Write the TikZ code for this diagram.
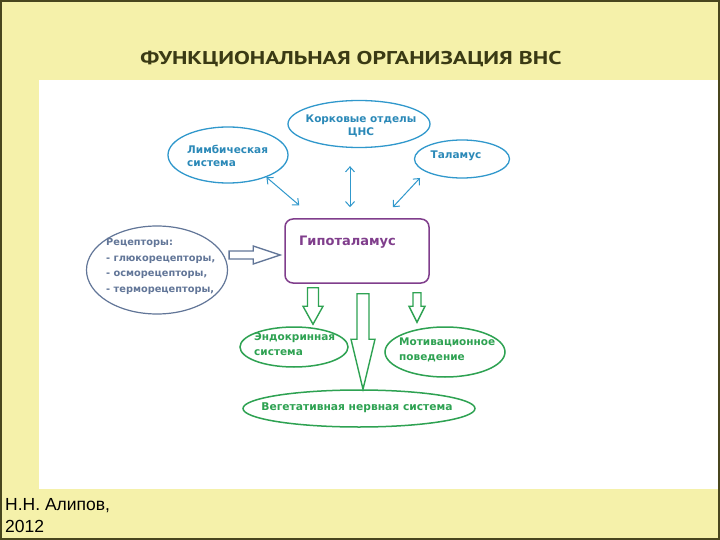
\documentclass[tikz,border=0pt]{standalone}
\usepackage{graphicx}
\usepackage{fontspec}
\setmainfont{DejaVu Sans}
\newfontfamily\titlefont{PT Sans}
\newfontfamily\footfont{Liberation Sans}
\usetikzlibrary{shapes.geometric,arrows.meta,calc}

\definecolor{bgyellow}{RGB}{245,241,170}
\definecolor{framecol}{RGB}{72,70,30}
\definecolor{titlecol}{RGB}{58,58,20}
\definecolor{cnsblue}{RGB}{48,152,204}
\definecolor{hypopurple}{RGB}{128,62,140}
\definecolor{effgreen}{RGB}{46,162,82}
\definecolor{recgray}{RGB}{98,118,152}

% hollow block arrow: style, from, to, shaft half, head half, head length
\newcommand{\fatarrow}[6]{%
  \coordinate (fa-h) at ($(#3)!#6!(#2)$);
  \draw[#1] ($(#2)!#4!90:(#3)$) -- ($(fa-h)!#4!90:(#3)$) -- ($(fa-h)!#5!90:(#3)$)
    -- (#3) -- ($(fa-h)!#5!-90:(#3)$) -- ($(fa-h)!#4!-90:(#3)$) -- ($(#2)!#4!-90:(#3)$) -- cycle;
}

\begin{document}
\begin{tikzpicture}[x=1pt,y=-1pt,
  ell/.style={ellipse,draw,line width=1.3pt,inner sep=0pt},
  lab/.style={inner sep=0pt,font=\bfseries\fontsize{10.5}{13}\selectfont},
  link/.style={cnsblue,line width=1pt,{Straight Barb[length=5pt,width=9pt]}-{Straight Barb[length=5pt,width=9pt]}},
  greenarrow/.style={draw=effgreen,fill=white,line width=1.4pt},
  grayarrow/.style={draw=recgray,fill=white,line width=1.3pt}]
   \useasboundingbox (0,0) rectangle (720,540);
   \fill[bgyellow] (0,0) rectangle (720,540);
   \fill[white] (39,80) rectangle (718,489);
   \draw[framecol,line width=2pt] (1,1) rectangle (719,539);

   \node[inner sep=0pt,text=titlecol,font=\titlefont\bfseries\fontsize{18.5}{20}\selectfont] (title) at (351,59)
     {\scalebox{1.28}[1]{ФУНКЦИОНАЛЬНАЯ ОРГАНИЗАЦИЯ ВНС}};

   % upper ring
   \node[ell,draw=cnsblue,minimum width=142pt,minimum height=47pt] (cortex) at (359,124) {};
   \node[lab,text=cnsblue!90!black,align=center] (cortextxt) at (361,126) {Корковые отделы\\ЦНС};
   \node[ell,draw=cnsblue,minimum width=120pt,minimum height=56pt] (limb) at (228,155) {};
   \node[lab,text=cnsblue!90!black,align=left,anchor=west] (limbtxt) at (187,156) {Лимбическая\\система};
   \node[ell,draw=cnsblue,minimum width=95pt,minimum height=38pt] (thal) at (462,159) {};
   \node[lab,text=cnsblue!90!black] (thaltxt) at (456,156) {Таламус};

   % hypothalamus
   \node[draw=hypopurple,line width=1.5pt,rounded corners=8pt,minimum width=144pt,minimum height=64pt] (hypo) at (357,251) {};
   \node[lab,text=hypopurple,anchor=west,font=\bfseries\fontsize{13}{15}\selectfont] (hypotxt) at (299,242) {Гипоталамус};

   % receptors
   \node[ell,draw=recgray,line width=1.2pt,minimum width=141pt,minimum height=88pt] (rec) at (157,270) {};
   \node[lab,text=recgray,align=left,anchor=west,font=\bfseries\fontsize{9.8}{15.5}\selectfont] (rectxt) at (106,266.5)
     {Рецепторы:\\- глюкорецепторы,\\- осморецепторы,\\- терморецепторы,};

   % effectors
   \node[ell,draw=effgreen,line width=1.5pt,minimum width=108pt,minimum height=40pt] (endo) at (294,347) {};
   \node[lab,text=effgreen,align=left,anchor=west,font=\bfseries\fontsize{10.5}{15}\selectfont] (endotxt) at (254,344.5) {Эндокринная\\система};
   \node[ell,draw=effgreen,line width=1.5pt,minimum width=120pt,minimum height=50pt] (motiv) at (445,352) {};
   \node[lab,text=effgreen,align=left,anchor=west,font=\bfseries\fontsize{10.5}{15}\selectfont] (motivtxt) at (399,349.5) {Мотивационное\\поведение};
   \node[ell,draw=effgreen,line width=1.5pt,minimum width=232pt,minimum height=37pt] (veg) at (359,408.5) {};
   \node[lab,text=effgreen,font=\bfseries\fontsize{10.7}{13}\selectfont] (vegtxt) at (357,408) {Вегетативная нервная система};

   % two-way links
   \draw[link] (limb.-30) -- ($(hypo.north west)+(15,-13)$);
   \draw[link] ($(cortex.south)+(-9,18)$) -- ($(hypo.north)+(-7,-11)$);
   \draw[link] ($(thal.center)+(-42,19)$) -- ($(hypo.north east)+(-37,-11)$);

   % block arrows
   \coordinate (r1) at ($(rec.east)+(1,-15)$);
   \coordinate (r2) at ($(hypo.west)+(-4,4)$);
   \fatarrow{grayarrow}{r1}{r2}{4pt}{9pt}{27pt}
   \coordinate (g1) at ($(hypo.south)+(-44,4)$);
   \coordinate (g2) at ($(endo.north)+(19,-2)$);
   \fatarrow{greenarrow}{g1}{g2}{5.5pt}{10pt}{18pt}
   \coordinate (g3) at ($(hypo.south)+(6,10)$);
   \coordinate (g4) at ($(veg.north)+(4,0)$);
   \fatarrow{greenarrow}{g3}{g4}{6pt}{12pt}{50pt}
   \coordinate (g5) at ($(hypo.south)+(60,9)$);
   \coordinate (g6) at ($(motiv.north)+(-28,-4)$);
   \fatarrow{greenarrow}{g5}{g6}{4pt}{8pt}{16pt}

   \node[inner sep=0pt,anchor=base west,font=\footfont\fontsize{17.5}{20}\selectfont] (author) at (5,510) {Н.Н. Алипов,};
   \node[inner sep=0pt,anchor=base west,font=\footfont\fontsize{17.5}{20}\selectfont] (year) at (5,532) {2012};
\end{tikzpicture}
\end{document}
